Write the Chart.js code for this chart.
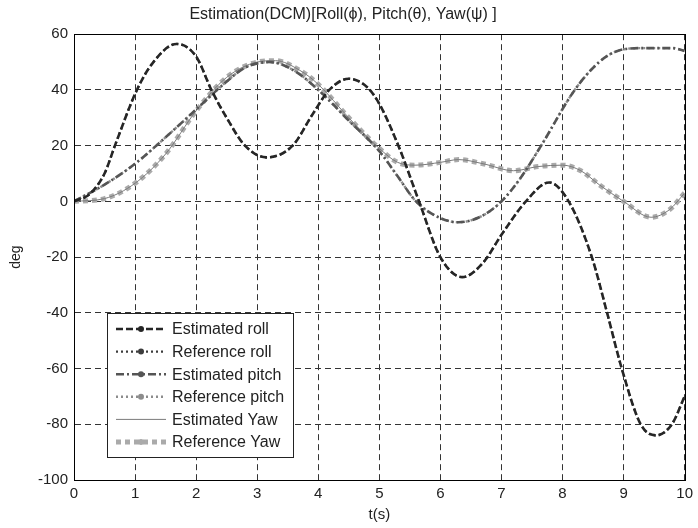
<!DOCTYPE html>
<html>
<head>
<meta charset="utf-8">
<script src="https://cdn.jsdelivr.net/npm/chart.js@4.4.1/dist/chart.umd.min.js"></script>
<style>
html,body{margin:0;padding:0;background:#fff;}
#wrap{width:698px;height:528px;}
</style>
</head>
<body>
<div id="wrap"><canvas id="c" width="698" height="528"></canvas></div>
<script>
// ---- data ----
const titleText = 'Estimation(DCM)[Roll(\u03D5), Pitch(\u03B8), Yaw(\u03C8) ]';
const xTicks = [0,1,2,3,4,5,6,7,8,9,10];
const yTicks = [-100,-80,-60,-40,-20,0,20,40,60];

const rollT   = [0,0.25,0.5,0.67,1.03,1.3,1.68,2.0,2.25,2.5,2.8,3.15,3.58,3.9,4.18,4.5,4.8,5.0,5.33,5.65,6.0,6.36,6.7,7.0,7.4,7.78,8.1,8.48,8.73,8.97,9.28,9.53,9.79,10];
const rollEst = [0,2.5,10,20,40,50,56.5,52,40,30,20,15.8,20,31,40,44,41,35,19,0,-20,-27.2,-22,-12,0,6.8,0,-20,-40,-60,-80,-84,-80,-70];
const rollRef = [0,2.5,10,20,40,50,56.5,52,40,30,20,15.8,20,31,40,44,41,35,19,0,-20,-27.2,-22,-12,0,6.8,0,-20,-40,-60,-80,-84,-80,-70];

const pitchT   = [0,0.5,1,1.5,2,2.5,2.8,3.2,3.6,4,4.5,5,5.3,5.6,6,6.3,6.7,7,7.3,7.65,8.2,8.6,8.9,9.3,9.8,10];
const pitchEst = [0,6,13.5,23,33,43,48,50,47,40,29,18,9,0,-6,-7.5,-5,0,8,20,40,50,54,55,55,54];
const pitchRef = [0,6,13.5,23,33,43,48,50,47,40,29,18,9,0,-6,-7.5,-5,0,8,20,40,50,54,55,55,54];

const yawT   = [0,0.5,1,1.5,2,2.5,3,3.3,3.7,4,4.5,5,5.3,5.6,6,6.3,6.7,7.2,7.6,8.0,8.3,8.6,9,9.45,9.75,10];
const yawEst = [0,1,6.5,17,32.5,44.5,50,50.5,47,42,30,19,14,13,14,15,13.5,11,12.5,13,11,6,0,-5.7,-3,3];
const yawRef = [0,1,6.5,17,32.5,44.5,50,50.5,47,42,30,19,14,13,14,15,13.5,11,12.5,13,11,6,0,-5.7,-3,3];

const seriesNames = ['Estimated roll','Reference roll','Estimated pitch','Reference pitch','Estimated Yaw','Reference Yaw'];

// ---- build datasets ----
function pts(t, v){ return t.map((x,i)=>({x:x, y:v[i]})); }
const styles = [
  {color:'#262626', width:2.6, dash:[7,3], marker:true},
  {color:'#3c3c3c', width:2.2, dash:[2,3], marker:true},
  {color:'#555555', width:2.6, dash:[8,3,2,3], marker:true},
  {color:'#8c8c8c', width:2.4, dash:[2,3], marker:true},
  {color:'#7a7a7a', width:1, dash:[], marker:false},
  {color:'#aaaaaa', width:5, dash:[5,4], marker:true}
];
const seriesData = [pts(rollT,rollEst), pts(rollT,rollRef), pts(pitchT,pitchEst), pts(pitchT,pitchRef), pts(yawT,yawEst), pts(yawT,yawRef)];
const datasets = seriesNames.map((n,i)=>({
  label:n,
  data:seriesData[i],
  borderColor:styles[i].color,
  borderWidth:styles[i].width,
  borderDash:styles[i].dash,
  pointRadius:0,
  fill:false,
  cubicInterpolationMode:'monotone'
}));

const FONT = '"Liberation Sans", Arial, sans-serif';

const framePlugin = {
  id:'frame',
  afterDraw(chart){
    const {ctx, chartArea:a} = chart;
    ctx.save();
    ctx.strokeStyle = '#000';
    ctx.lineWidth = 1;
    ctx.setLineDash([]);
    ctx.strokeRect(Math.round(a.left)+0.5, Math.round(a.top)+0.5, Math.round(a.right-a.left), Math.round(a.bottom-a.top));
    // legend box
    const bx=107, by=313, bw=186, bh=144;
    ctx.fillStyle='#fff';
    ctx.fillRect(bx,by,bw,bh);
    ctx.strokeStyle='#222';
    ctx.strokeRect(bx+0.5,by+0.5,bw,bh);
    ctx.font = '16px ' + FONT;
    ctx.textBaseline='middle';
    ctx.textAlign='left';
    for(let i=0;i<seriesNames.length;i++){
      const y = by + 16 + i*22.6;
      const s = styles[i];
      ctx.strokeStyle = s.color;
      ctx.lineWidth = s.width;
      ctx.setLineDash(s.dash);
      ctx.beginPath(); ctx.moveTo(116,y); ctx.lineTo(166,y); ctx.stroke();
      ctx.setLineDash([]);
      if(s.marker){
        ctx.fillStyle = s.color;
        ctx.beginPath(); ctx.arc(141,y,3,0,Math.PI*2); ctx.fill();
      }
      ctx.fillStyle = '#222';
      ctx.fillText(seriesNames[i], 172, y+1);
    }
    ctx.restore();
  }
};

new Chart(document.getElementById('c'), {
  type:'line',
  data:{datasets},
  options:{
    responsive:false,
    animation:false,
    devicePixelRatio:1,
    layout:{padding:{left:0,right:12,top:0,bottom:0}},
    plugins:{
      legend:{display:false},
      tooltip:{enabled:false},
      title:{display:true, text:titleText, color:'#222', font:{family:FONT,size:16,weight:'normal'}, padding:{top:5,bottom:10}}
    },
    scales:{
      x:{
        type:'linear', min:0, max:10,
        afterBuildTicks(s){ s.ticks = xTicks.map(v=>({value:v})); },
        afterFit(s){ s.height = 48; },
        grid:{color:'#333', lineWidth:1, drawTicks:false},
        border:{display:true, color:'#000', dash:[6,4]},
        ticks:{color:'#222', padding:5, font:{family:FONT,size:15}, maxRotation:0},
        title:{display:true, text:'t(s)', color:'#222', font:{family:FONT,size:15}, padding:{top:0,bottom:4}}
      },
      y:{
        type:'linear', min:-100, max:60,
        afterBuildTicks(s){ s.ticks = yTicks.map(v=>({value:v})); },
        afterFit(s){ s.width = 74; },
        grid:{color:'#333', lineWidth:1, drawTicks:false},
        border:{display:true, color:'#000', dash:[6,4]},
        ticks:{color:'#222', padding:6, font:{family:FONT,size:15}},
        title:{display:true, text:'deg', color:'#222', font:{family:FONT,size:14}, padding:{top:8,bottom:12}}
      }
    }
  },
  plugins:[framePlugin]
});
</script>
</body>
</html>
